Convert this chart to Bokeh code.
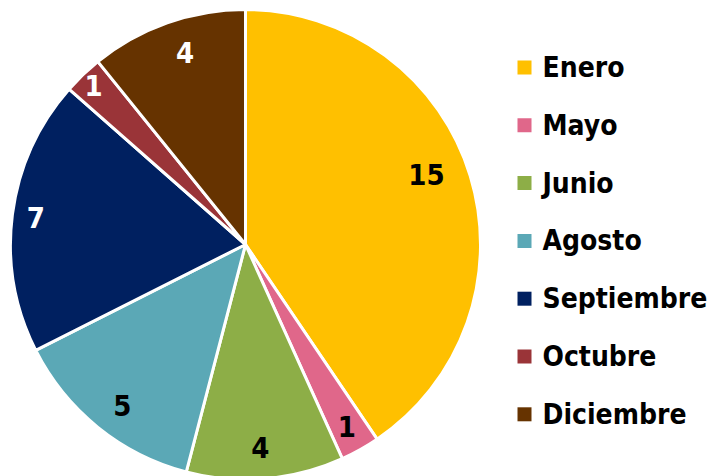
import math
from bokeh.plotting import figure
from bokeh.models import ColumnDataSource, Range1d
from bokeh.core.properties import value
from bokeh.embed import file_html
from bokeh.resources import INLINE

categories = ["Enero", "Mayo", "Junio", "Agosto", "Septiembre", "Octubre", "Diciembre"]
counts = [15, 1, 4, 5, 7, 1, 4]
colors = ["#FFC000", "#E0678A", "#8DAE47", "#5BA8B6", "#002060", "#9A3438", "#663300"]
label_colors = ["black", "black", "black", "black", "white", "white", "white"]

# label placement (fraction of radius, angle nudge in degrees)
label_r = [0.825, 0.885, 0.865, 0.862, 0.90, 0.935, 0.857]
label_dang = [-4.0, 0.0, 0.7, -1.5, 0.0, 0.0, 2.0]

W, H = 713, 476
CX, CY, R = 245, 476 - 244, 235
FONT = "DejaVu Sans Condensed, Liberation Sans, sans-serif"

total = sum(counts)
starts, ends, lx, ly = [], [], [], []
cum = 0
for i, c in enumerate(counts):
    a0 = math.pi / 2 - 2 * math.pi * cum / total
    a1 = math.pi / 2 - 2 * math.pi * (cum + c) / total
    mid = (a0 + a1) / 2 - math.radians(label_dang[i])
    starts.append(a0)
    ends.append(a1)
    lx.append(CX + label_r[i] * R * math.cos(mid))
    ly.append(CY + label_r[i] * R * math.sin(mid))
    cum += c

src = ColumnDataSource(dict(cat=categories, n=counts, color=colors, s=starts, e=ends,
                            lx=lx, ly=ly, lc=label_colors, txt=[str(v) for v in counts]))

p = figure(width=W, height=H, output_backend="svg", toolbar_location=None,
           x_range=Range1d(0, W), y_range=Range1d(0, H), min_border=0)
p.axis.visible = False
p.grid.visible = False
p.outline_line_color = None

p.wedge(x=CX, y=CY, radius=R, start_angle="s", end_angle="e", direction="clock",
        fill_color="color", line_color="white", line_width=3, source=src)
p.text(x="lx", y="ly", text="txt", text_color="lc", text_align="center", text_baseline="middle",
       text_font=value(FONT), text_font_style="bold", text_font_size="29px", source=src)

leg_y = [476 - (67 + 57.8 * i) for i in range(len(categories))]
leg = ColumnDataSource(dict(y=leg_y, cat=categories, color=colors))
p.scatter(x=524, y="y", marker="square", size=14, fill_color="color", line_color=None, source=leg)
p.text(x=542, y="y", text="cat", text_color="black", text_align="left", text_baseline="middle",
       text_font=value(FONT), text_font_style="bold", text_font_size="28px", source=leg)

open("out.html", "w").write(file_html(p, INLINE))
